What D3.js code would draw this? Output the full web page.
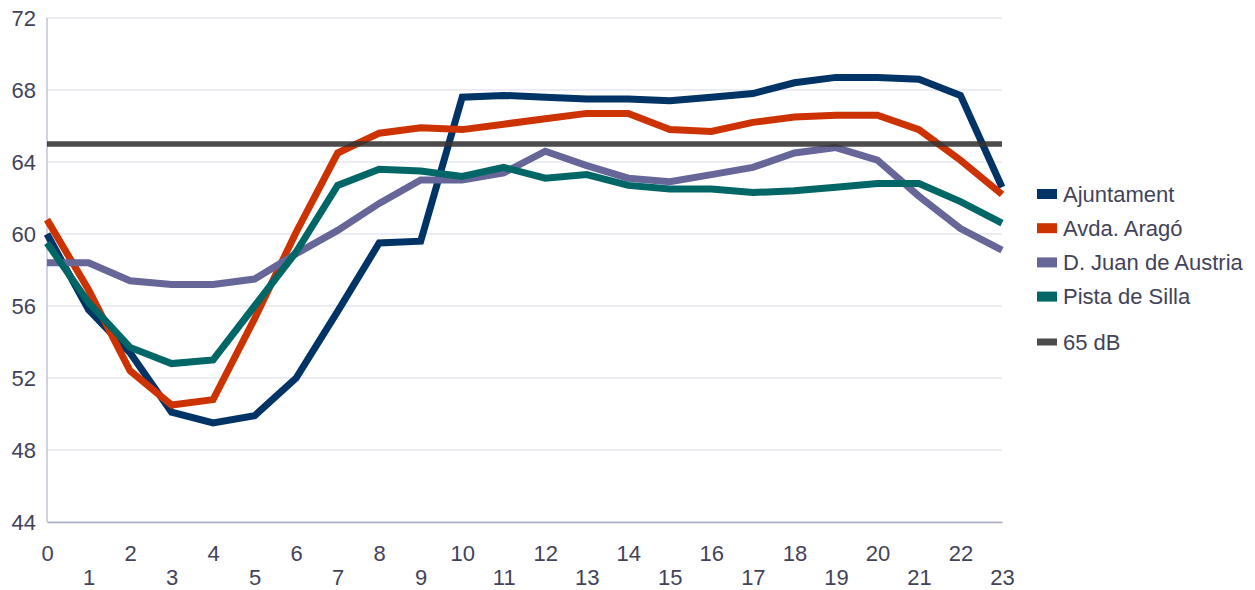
<!DOCTYPE html>
<html>
<head>
<meta charset="utf-8">
<script src="https://cdn.jsdelivr.net/npm/d3@7/dist/d3.min.js"></script>
<style>
  html, body { margin: 0; padding: 0; background: #fff; }
  svg { display: block; font-family: "Liberation Sans", Arial, sans-serif; }
</style>
</head>
<body>
<svg id="chart" width="1255" height="590"></svg>
<script>
// Hourly sound levels (dB) per monitoring station
const hours = d3.range(0, 24);
const ajuntament = [60.0, 55.8, 53.4, 50.1, 49.5, 49.9, 52.0, 55.7, 59.5, 59.6, 67.6, 67.7, 67.6, 67.5, 67.5, 67.4, 67.6, 67.8, 68.4, 68.7, 68.7, 68.6, 67.7, 62.6];
const avdaArago = [60.8, 56.9, 52.4, 50.5, 50.8, 55.3, 60.1, 64.5, 65.6, 65.9, 65.8, 66.1, 66.4, 66.7, 66.7, 65.8, 65.7, 66.2, 66.5, 66.6, 66.6, 65.8, 64.1, 62.2];
const juanAustria = [58.4, 58.4, 57.4, 57.2, 57.2, 57.5, 58.9, 60.2, 61.7, 63.0, 63.0, 63.4, 64.6, 63.8, 63.1, 62.9, 63.3, 63.7, 64.5, 64.8, 64.1, 62.1, 60.3, 59.1];
const pistaSilla = [59.5, 56.2, 53.7, 52.8, 53.0, 56.0, 59.0, 62.7, 63.6, 63.5, 63.2, 63.7, 63.1, 63.3, 62.7, 62.5, 62.5, 62.3, 62.4, 62.6, 62.8, 62.8, 61.8, 60.6];
const threshold = 65;
const yTicks = [44, 48, 52, 56, 60, 64, 68, 72];

const seriesNames = ["Ajuntament", "Avda. Aragó", "D. Juan de Austria", "Pista de Silla"];
const seriesValues = [ajuntament, avdaArago, juanAustria, pistaSilla];
const seriesColors = ["#003366", "#cc3300", "#666699", "#006666"];
const thresholdLabel = "65 dB";
const thresholdColor = "#333333";

const svg = d3.select("#chart");
const plotLeft = 47, plotRight = 1002, plotTop = 18, plotBottom = 522;

const x = d3.scaleLinear().domain([0, 23]).range([plotLeft, plotRight]);
const y = d3.scaleLinear().domain([44, 72]).range([plotBottom, plotTop]);

const textColor = "#42435a";
const fontSize = "22px";

// horizontal gridlines
svg.append("g")
  .selectAll("line")
  .data(yTicks)
  .join("line")
  .attr("x1", plotLeft).attr("x2", plotRight)
  .attr("y1", d => y(d)).attr("y2", d => y(d))
  .attr("stroke", "#e6e6f0")
  .attr("stroke-width", 1.5);

// y axis labels
const yAxis = svg.append("g")
  .attr("transform", `translate(${plotLeft},0)`)
  .call(d3.axisLeft(y).tickValues(yTicks).tickSize(0).tickPadding(11).tickFormat(d3.format("d")));
yAxis.select(".domain").remove();
yAxis.selectAll("text")
  .attr("fill", textColor)
  .style("font-size", fontSize)
  .style("font-family", "'Liberation Sans', Arial, sans-serif");

// y axis line
svg.append("line")
  .attr("x1", plotLeft).attr("x2", plotLeft)
  .attr("y1", plotTop).attr("y2", plotBottom)
  .attr("stroke", "#b4b4cc").attr("stroke-width", 1.2);

// x axis: labels alternate between two rows
const xAxis = svg.append("g")
  .attr("transform", `translate(0,${plotBottom})`)
  .call(d3.axisBottom(x).tickValues(hours).tickSize(0).tickFormat(d3.format("d")));
xAxis.select(".domain")
  .attr("stroke", "#a8acc4").attr("stroke-width", 1.5);
xAxis.selectAll("text")
  .attr("fill", textColor)
  .style("font-size", fontSize)
  .style("font-family", "'Liberation Sans', Arial, sans-serif")
  .attr("dy", null)
  .attr("dominant-baseline", "central")
  .attr("y", d => d % 2 === 0 ? 31 : 55);

// station lines
const line = d3.line()
  .x((d, i) => x(hours[i]))
  .y(d => y(d));

svg.append("g")
  .selectAll("path")
  .data(seriesValues)
  .join("path")
  .attr("d", d => line(d))
  .attr("fill", "none")
  .attr("stroke", (d, i) => seriesColors[i])
  .attr("stroke-width", 7)
  .attr("stroke-linejoin", "miter")
  .attr("stroke-linecap", "butt");

// 65 dB reference line
svg.append("line")
  .attr("x1", x(0)).attr("x2", x(23))
  .attr("y1", y(threshold)).attr("y2", y(threshold))
  .attr("stroke", thresholdColor)
  .attr("stroke-opacity", 0.88)
  .attr("stroke-width", 5.5);

// legend
const legendX = 1037;
const legendRows = seriesNames.map((n, i) => ({ name: n, color: seriesColors[i], cy: 194 + i * 34.2, h: 10 }));
legendRows.push({ name: thresholdLabel, color: "#4b4b4b", cy: 342, h: 7 });

const lg = svg.append("g");
lg.selectAll("rect")
  .data(legendRows)
  .join("rect")
  .attr("x", legendX).attr("width", 20)
  .attr("y", d => d.cy - d.h / 2).attr("height", d => d.h)
  .attr("fill", d => d.color);
lg.selectAll("text")
  .data(legendRows)
  .join("text")
  .attr("x", legendX + 26)
  .attr("y", d => d.cy)
  .attr("dominant-baseline", "central")
  .attr("fill", textColor)
  .style("font-size", fontSize)
  .text(d => d.name);
</script>
</body>
</html>
